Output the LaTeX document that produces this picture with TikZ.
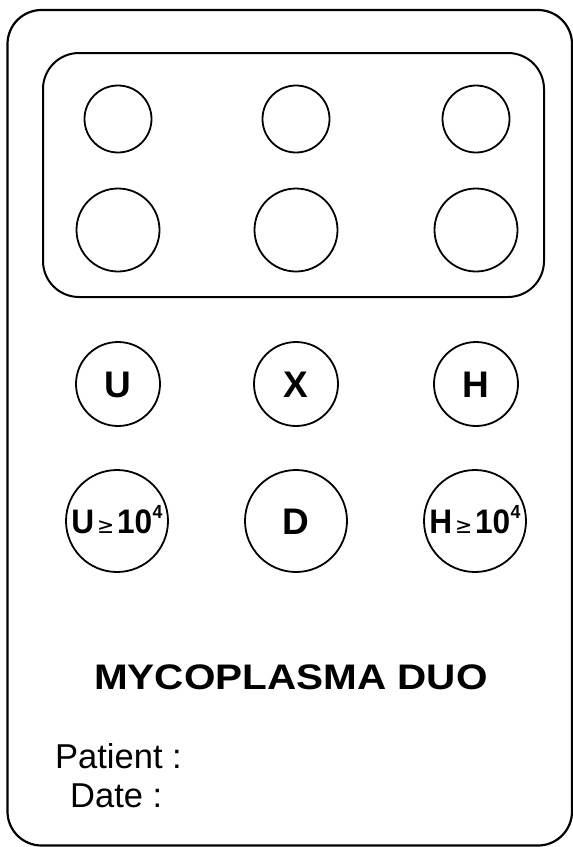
\documentclass[tikz,border=0pt]{standalone}
\usepackage{fontspec}
\setmainfont{Liberation Sans}
\newfontfamily\symfont{DejaVu Sans}
\newcommand{\gesym}{{\symfont\mdseries\fontsize{22}{22}\selectfont ≥}}
\newcommand{\supfour}{\raisebox{0.42em}{\fontsize{19}{19}\selectfont 4}}
\tikzset{
  card/.style={line width=2.2pt, rounded corners=34pt},
  tray/.style={line width=2pt, rounded corners=36pt},
  well/.style={circle, draw, line width=1.8pt, inner sep=0pt, text depth=0pt},
  lbl/.style={font=\fontsize{37}{40}\selectfont\bfseries, text height=26.5pt},
  lblsm/.style={font=\fontsize{34}{36}\selectfont\bfseries, text height=24.4pt},
}
\begin{document}
\begin{tikzpicture}[x=1pt,y=-1pt]
\useasboundingbox (0,0) rectangle (573,847);
\draw[card] (7.5,10) rectangle (572,845.5);
\draw[tray] (43,53) rectangle (544,297);
% top rows
\foreach \n/\x in {a/118,b/296,c/476}{
  \node[well, minimum size=67pt] (t\n) at (\x,119) {};
  \node[well, minimum size=83pt] (m\n) at (\x,230) {};
}
\node[well, minimum size=84pt, lbl] (u) at (118,384) {U};
\node[well, minimum size=84pt, lbl] (x) at (296,384) {X};
\node[well, minimum size=84pt, lbl] (h) at (476,384) {H};
\node[well, minimum size=102pt, lblsm] (ud) at (117,521) {\scalebox{0.93}[1]{U\kern3pt\gesym\kern3pt10\kern0.5pt\supfour}};
\node[well, minimum size=102pt, lbl] (d) at (296,521) {D};
\node[well, minimum size=102pt, lblsm] (hd) at (475,521) {\scalebox{0.93}[1]{H\kern3pt\gesym\kern3pt10\kern0.5pt\supfour}};
\node[font=\fontsize{35.5}{38}\selectfont\bfseries, anchor=base] (title) at (291,689) {\scalebox{1.14}[1]{MYCOPLASMA DUO}};
\node[font=\fontsize{34.5}{36}\selectfont, anchor=base west, inner sep=0pt] (pat) at (55,768) {Patient :};
\node[font=\fontsize{34.5}{36}\selectfont, anchor=base west, inner sep=0pt] (date) at (70,807) {Date :};
\end{tikzpicture}
\end{document}
